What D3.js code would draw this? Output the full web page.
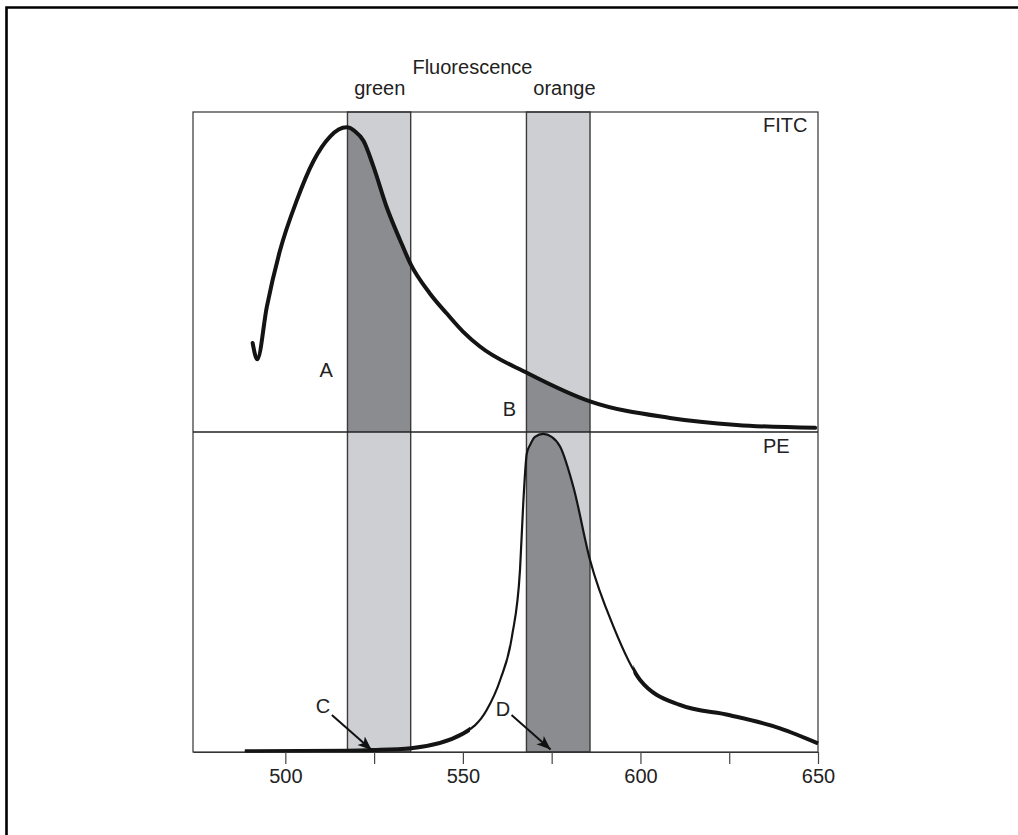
<!DOCTYPE html>
<html>
<head>
<meta charset="utf-8">
<script src="https://cdn.jsdelivr.net/npm/d3@7"></script>
<style>
  body { margin: 0; background: #fff; }
  svg { display: block; font-family: "Liberation Sans", Arial, Helvetica, sans-serif; }
</style>
</head>
<body>
<div id="chart"><svg></svg></div>
<script>
// emission spectra, wavelength in nm, relative intensity 0-100
const fitcNm  = [490.8, 492.1, 494.8, 498.5, 503.2, 507.9, 512.6, 515.0, 517.3, 519.6, 522.0, 524.8, 528.5, 532.3, 535.4, 540.7, 545.4, 550.1, 554.8, 568.4, 586.0, 608.3, 627.1, 649.2];
const fitcVal = [27.8, 22.7, 39.2, 56.7, 72.3, 84.6, 92.3, 94.5, 95.2, 94.0, 91.0, 83.0, 70.4, 60.0, 52.2, 43.3, 37.1, 31.3, 26.7, 18.3, 9.5, 4.4, 2.2, 1.3];

const peNm  = [488.6, 517.3, 524.8, 535.4, 550.1, 556.7, 560.5, 563.8, 566.1, 567.0, 568.0, 568.9, 570.3, 572.6, 575.0, 577.4, 581.1, 585.8, 592.4, 599.9, 611.1, 625.2, 639.3, 650.0];
const peVal = [0.2, 0.4, 0.6, 1.2, 5.8, 13.1, 22.5, 36.0, 57.2, 77.7, 93.3, 95.9, 98.5, 99.4, 98.5, 95.4, 82.9, 60.0, 39.2, 22.5, 14.7, 11.5, 7.4, 2.7];

// detection filters
const bandNames = ["green", "orange"];
const bandFrom  = [517.5, 567.9];
const bandTo    = [535.3, 585.8];

const tickValues = [500, 525, 550, 575, 600, 625, 650];
const tickLabels = ["500", "", "550", "", "600", "", "650"];

// letters and arrows: [label, panel, nm, value]
const letters = [["A", 0, 511.5, 17.2], ["B", 0, 563.1, 5.0], ["C", 1, 510.6, 12.2], ["D", 1, 561.3, 11.3]];
const arrows  = [[1, 513.1, 11.6, 524.3, 0.6], [1, 563.7, 11.6, 574.7, 0.8]];

const width = 1018, height = 835;
const mLeft = 193, mRight = 818, mTop = 112, mMid = 432, mBottom = 752;

const svg = d3.select("#chart svg").attr("width", width).attr("height", height);

const x = d3.scaleLinear().domain([474, 650]).range([mLeft, mRight]);
const yTop = d3.scaleLinear().domain([0, 100]).range([mMid, mTop]);
const yBot = d3.scaleLinear().domain([0, 100]).range([mBottom, mMid]);
const yPanel = [yTop, yBot];

const fitc = fitcNm.map((d, i) => ({ nm: d, v: fitcVal[i] }));
const pe = peNm.map((d, i) => ({ nm: d, v: peVal[i] }));

const defs = svg.append("defs");

defs.append("marker")
  .attr("id", "head")
  .attr("viewBox", "0 0 10 10")
  .attr("refX", 10)
  .attr("refY", 5)
  .attr("markerWidth", 7)
  .attr("markerHeight", 7)
  .attr("markerUnits", "strokeWidth")
  .attr("orient", "auto")
  .append("path")
  .attr("d", "M0,1 L10,5 L0,9 L2.5,5 Z")
  .attr("fill", "#111");

// clip for each filter band
bandNames.forEach((b, i) => {
  defs.append("clipPath")
    .attr("id", "clip-" + b)
    .append("rect")
    .attr("x", x(bandFrom[i]))
    .attr("y", mTop)
    .attr("width", x(bandTo[i]) - x(bandFrom[i]))
    .attr("height", mBottom - mTop);
});

// PE line is drawn heavier on its tails
defs.append("clipPath")
  .attr("id", "clip-tails")
  .selectAll("rect")
  .data([[474, 552], [598, 651]])
  .join("rect")
  .attr("x", (d) => x(d[0]))
  .attr("y", mTop)
  .attr("width", (d) => x(d[1]) - x(d[0]))
  .attr("height", mBottom - mTop);

// outer open frame
svg.append("path")
  .attr("d", "M6.5," + height + " V7.5 H" + width)
  .attr("fill", "none")
  .attr("stroke", "#000")
  .attr("stroke-width", 2.6);

// light filter bands
svg.append("g")
  .selectAll("rect")
  .data(bandNames)
  .join("rect")
  .attr("x", (d, i) => x(bandFrom[i]))
  .attr("y", mTop)
  .attr("width", (d, i) => x(bandTo[i]) - x(bandFrom[i]))
  .attr("height", mBottom - mTop)
  .attr("fill", "#cdcfd2");

// dark overlap: spectrum inside each band
const curves = [fitc, pe];
curves.forEach((data, p) => {
  const area = d3.area()
    .x((d) => x(d.nm))
    .y0(yPanel[p](0))
    .y1((d) => yPanel[p](d.v))
    .curve(d3.curveMonotoneX);
  bandNames.forEach((b) => {
    svg.append("path")
      .datum(data)
      .attr("clip-path", "url(#clip-" + b + ")")
      .attr("fill", "#8b8c90")
      .attr("d", area);
  });
});

// band outlines
svg.append("g")
  .selectAll("rect")
  .data(bandNames)
  .join("rect")
  .attr("x", (d, i) => x(bandFrom[i]))
  .attr("y", mTop)
  .attr("width", (d, i) => x(bandTo[i]) - x(bandFrom[i]))
  .attr("height", mBottom - mTop)
  .attr("fill", "none")
  .attr("stroke", "#3a3a3a")
  .attr("stroke-width", 1.4);

// panel frames
svg.append("rect")
  .attr("x", mLeft)
  .attr("y", mTop)
  .attr("width", mRight - mLeft)
  .attr("height", mBottom - mTop)
  .attr("fill", "none")
  .attr("stroke", "#333")
  .attr("stroke-width", 1.2);

svg.append("line")
  .attr("x1", mLeft)
  .attr("x2", mRight)
  .attr("y1", mMid)
  .attr("y2", mMid)
  .attr("stroke", "#222")
  .attr("stroke-width", 1.4);

// x axis
const axis = svg.append("g")
  .attr("transform", "translate(0," + mBottom + ")")
  .call(
    d3.axisBottom(x)
      .tickValues(tickValues)
      .tickFormat((d, i) => tickLabels[i])
      .tickSize(12)
      .tickSizeOuter(0)
      .tickPadding(5)
  );
axis.select(".domain").attr("stroke", "#333").attr("stroke-width", 1.2);
axis.selectAll(".tick line").attr("stroke", "#444").attr("stroke-width", 1.2);
axis.selectAll(".tick text")
  .attr("fill", "#222")
  .style("font-size", "20px")
  .style("font-family", "'Liberation Sans', Arial, sans-serif");

// spectra lines
const lineTop = d3.line()
  .x((d) => x(d.nm))
  .y((d) => yTop(d.v))
  .curve(d3.curveMonotoneX);

svg.append("path")
  .datum(fitc)
  .attr("fill", "none")
  .attr("stroke", "#141414")
  .attr("stroke-width", 4)
  .attr("stroke-linejoin", "round")
  .attr("stroke-linecap", "round")
  .attr("d", lineTop);

const lineBot = d3.line()
  .x((d) => x(d.nm))
  .y((d) => yBot(d.v))
  .curve(d3.curveMonotoneX);

svg.append("path")
  .datum(pe)
  .attr("fill", "none")
  .attr("stroke", "#141414")
  .attr("stroke-width", 2.2)
  .attr("d", lineBot);

svg.append("path")
  .datum(pe)
  .attr("clip-path", "url(#clip-tails)")
  .attr("fill", "none")
  .attr("stroke", "#141414")
  .attr("stroke-width", 4)
  .attr("d", lineBot);

// text
const txt = svg.append("g")
  .attr("fill", "#222")
  .style("font-size", "20px");

txt.append("text")
  .attr("x", x(552.7))
  .attr("y", 74)
  .attr("text-anchor", "middle")
  .text("Fluorescence");

txt.append("text")
  .attr("x", x(526.6))
  .attr("y", 95)
  .attr("text-anchor", "middle")
  .text(bandNames[0]);

txt.append("text")
  .attr("x", x(578.6))
  .attr("y", 95)
  .attr("text-anchor", "middle")
  .text(bandNames[1]);

txt.append("text")
  .attr("x", x(634.5))
  .attr("y", yTop(93.7))
  .text("FITC");

txt.append("text")
  .attr("x", x(634.5))
  .attr("y", yBot(93.5))
  .text("PE");

txt.selectAll(".letter")
  .data(letters)
  .join("text")
  .attr("class", "letter")
  .attr("x", (d) => x(d[2]))
  .attr("y", (d) => yPanel[d[1]](d[3]))
  .attr("text-anchor", "middle")
  .text((d) => d[0]);

svg.append("g")
  .selectAll("line")
  .data(arrows)
  .join("line")
  .attr("x1", (d) => x(d[1]))
  .attr("y1", (d) => yPanel[d[0]](d[2]))
  .attr("x2", (d) => x(d[3]))
  .attr("y2", (d) => yPanel[d[0]](d[4]))
  .attr("stroke", "#111")
  .attr("stroke-width", 2)
  .attr("marker-end", "url(#head)");
</script>
</body>
</html>
